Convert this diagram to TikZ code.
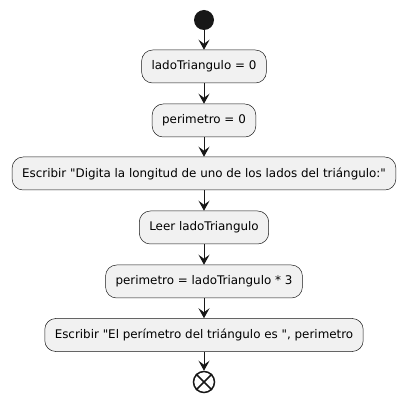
\documentclass[tikz,border=0pt]{standalone}
\usepackage{fontspec}
\setmainfont{DejaVu Sans}[Ligatures=TeXOff]
\usetikzlibrary{arrows.meta}
\definecolor{boxfill}{HTML}{F1F1F1}
\definecolor{umlline}{HTML}{181818}
\tikzset{
  paso/.style={draw=umlline, fill=boxfill, rounded corners=11pt, line width=0.5pt,
    minimum height=33pt, inner xsep=10pt, font=\fontsize{11.9}{14}\selectfont},
  flecha/.style={draw=umlline, line width=1pt, -{Stealth[length=10pt,width=11pt,inset=4pt]}}
}
\begin{document}
\begin{tikzpicture}[x=1pt,y=-1pt]
        \useasboundingbox (0,0) rectangle (407,403);
		\node[circle, fill=umlline, minimum size=20pt, inner sep=0pt] (inicio) at (204,20) {};
		\node[paso] (A) at (204,66.5) {ladoTriangulo = 0};
		\node[paso] (B) at (204,120.5) {perimetro = 0};
		\node[paso] (C) at (204,173.5) {Escribir "Digita la longitud de uno de los lados del triángulo:"};
		\node[paso] (D) at (204,227.5) {Leer ladoTriangulo};
		\node[paso] (E) at (204,281.5) {perimetro = ladoTriangulo * 3};
		\node[paso] (F) at (204,335) {Escribir "El perímetro del triángulo es ", perimetro};
		\node[circle, draw=umlline, line width=1.5pt, minimum size=21pt, inner sep=0pt] (fin) at (204,382) {};
		\draw[umlline, line width=1.5pt] (fin.45)--(fin.225);
		\draw[umlline, line width=1.5pt] (fin.135)--(fin.315);
		
		\draw[flecha] (inicio)--(A);
		\draw[flecha] (A)--(B);
		\draw[flecha] (B)--(C);
		\draw[flecha] (C)--(D);
		\draw[flecha] (D)--(E);
		\draw[flecha] (E)--(F);
		\draw[flecha] (F)--(fin);
		\end{tikzpicture}
\end{document}
